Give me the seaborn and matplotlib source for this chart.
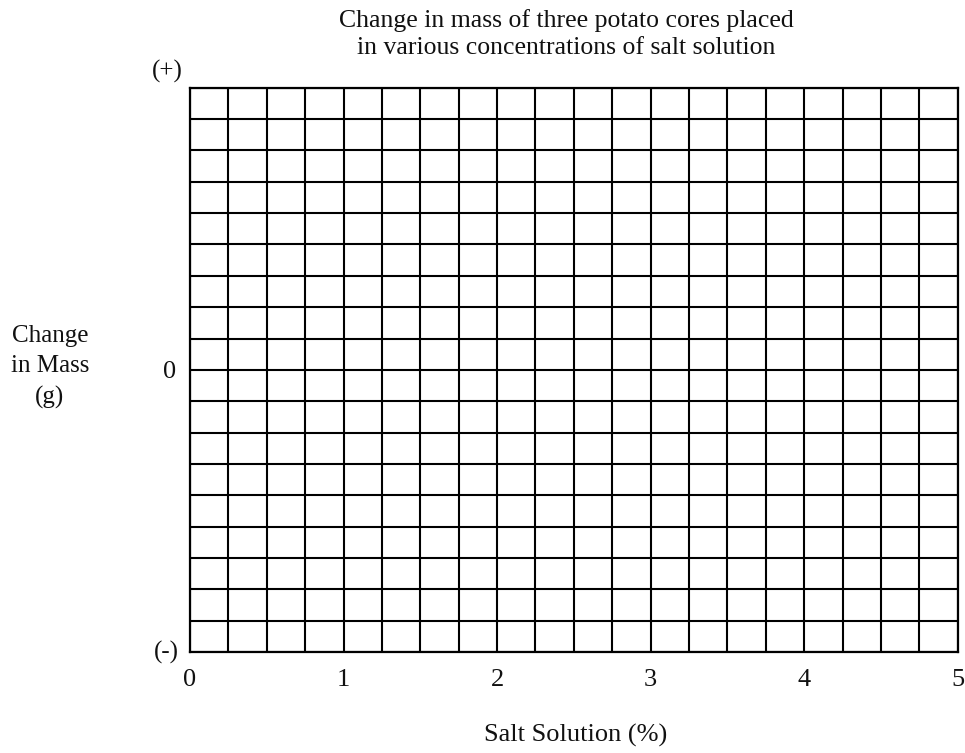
import numpy as np
import matplotlib
matplotlib.use("Agg")
import matplotlib.pyplot as plt
import seaborn as sns

# chart content
title_lines = ["Change in mass of three potato cores placed",
               "in various concentrations of salt solution"]
x_label = "Salt Solution (%)"
y_label_lines = ["Change", "in Mass", "(g)"]
x_ticks = [0, 1, 2, 3, 4, 5]
x_tick_labels = ["0", "1", "2", "3", "4", "5"]
cols_per_unit = 4
rows_above = 9
rows_below = 9
y_tick_labels = ["(+)", "0", "(-)"]

sns.set_theme(style="white")
plt.rcParams['font.family'] = ['Liberation Serif', 'DejaVu Serif']

fig = plt.figure(figsize=(9.65, 7.53), dpi=100)
ax = fig.add_axes([0.1969, 0.1341, 0.7955, 0.7494])

ax.set_xlim(x_ticks[0], x_ticks[-1])
ax.set_ylim(-rows_below, rows_above)

# grid lines: quarter units on x, one unit on y
ax.set_xticks(x_ticks)
ax.set_xticklabels(x_tick_labels, fontsize=19)
ax.set_xticks(np.arange(x_ticks[0], x_ticks[-1] + 1e-9, 1 / cols_per_unit), minor=True)
ax.set_yticks([0])
ax.set_yticklabels([y_tick_labels[1]], fontsize=19)
ax.set_yticks(np.arange(-rows_below, rows_above + 1), minor=True)
ax.grid(which='both', color='black', linewidth=1.5)
ax.tick_params(which='both', length=0)
ax.tick_params(axis='x', pad=12, colors='#111111')
ax.tick_params(axis='y', pad=10, colors='#111111')
for sp in ax.spines.values():
    sp.set_color('black')
    sp.set_linewidth(1.6)
for lbl in ax.get_xticklabels():
    lbl.set_x(lbl.get_position()[0])

ax.annotate(y_tick_labels[0], xy=(0, rows_above), xycoords=('axes fraction', 'data'),
            xytext=(-5, 12), textcoords='offset points', ha='right', va='center',
            fontsize=18, color='#111111')
ax.annotate(y_tick_labels[2], xy=(0, -rows_below), xycoords=('axes fraction', 'data'),
            xytext=(-8, 0), textcoords='offset points', ha='right', va='center',
            fontsize=18, color='#111111')

fig.text(566 / 965, 1 - 34 / 753, "\n".join(title_lines), ha='center', va='center',
         fontsize=18.5, linespacing=1.3, color='#111111')
fig.text(50 / 965, 1 - 367 / 753, "\n".join(y_label_lines), ha='center', va='center',
         fontsize=18, linespacing=1.5, color='#111111')
fig.text(576 / 965, 1 - 735 / 753, x_label, ha='center', va='center',
         fontsize=19, color='#111111')

fig.savefig("out.png", dpi=100, facecolor='white')
